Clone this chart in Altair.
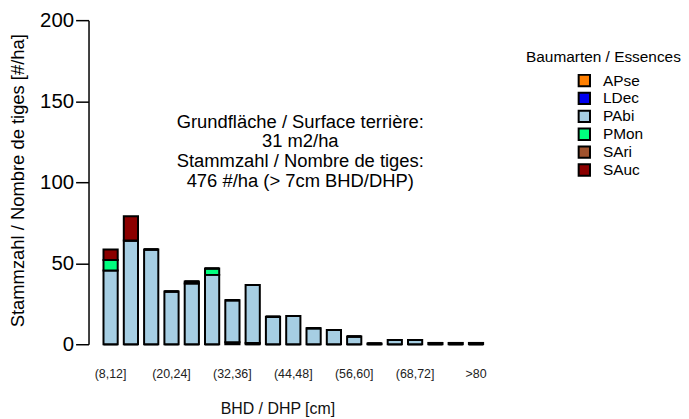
import altair as alt
import pandas as pd

classes = ["(8,12]", "(12,16]", "(16,20]", "(20,24]", "(24,28]", "(28,32]", "(32,36]",
           "(36,40]", "(40,44]", "(44,48]", "(48,52]", "(52,56]", "(56,60]", "(60,64]",
           "(64,68]", "(68,72]", "(72,76]", "(76,80]", ">80"]
species = ["APse", "LDec", "PAbi", "PMon", "SAri", "SAuc"]
colors = ["#FF7F00", "#0000EE", "#A6CEE3", "#00FF7F", "#A0522D", "#8B0000"]

APse = [0, 0, 0, 0, 0, 0, 1.2, 0, 0, 0, 0, 0, 0, 0, 0, 0, 0, 0, 0]
LDec = [0, 0, 0, 0, 0, 0, 0, 0.8, 0, 0, 0, 0, 0, 0, 0, 0, 0, 0, 0]
PAbi = [45.5, 64, 58.5, 32.5, 37.5, 42.8, 26, 35.8, 17, 17.4, 9.8, 8.8, 4.7, 0.4, 2.6, 2.6, 0.8, 0.8, 0.8]
PMon = [6.5, 0, 0, 0, 1.2, 4, 0, 0, 0, 0, 0, 0, 0, 0, 0, 0, 0, 0, 0]
SAri = [0, 0, 0, 0, 0, 0, 0, 0, 0, 0, 0, 0, 0, 0, 0, 0, 0, 0, 0]
SAuc = [6.5, 15, 0, 0, 0, 0, 0, 0, 0, 0, 0, 0, 0, 0, 0, 0, 0, 0, 0]

annotation = "Grundfläche / Surface terrière:\n31 m2/ha\nStammzahl / Nombre de tiges:\n476 #/ha (> 7cm BHD/DHP)"
legend_title = "Baumarten / Essences"
y_title = "Stammzahl / Nombre de tiges [#/ha]"
x_title = "BHD / DHP [cm]"

series = {"APse": APse, "LDec": LDec, "PAbi": PAbi, "PMon": PMon, "SAri": SAri, "SAuc": SAuc}
rows = []
for si, sp in enumerate(species):
    for ci, c in enumerate(classes):
        rows.append({"cls": c, "species": sp, "n": series[sp][ci], "ord": si})
df = pd.DataFrame(rows)

FONT = "Liberation Sans"

bars = alt.Chart(df).mark_bar(stroke="black", strokeWidth=2).encode(
    x=alt.X("cls:N", sort=classes,
            scale=alt.Scale(paddingInner=0.3, paddingOuter=0.15),
            axis=alt.Axis(values=[classes[i] for i in range(0, 19, 3)], labelAngle=0,
                          domain=False, ticks=False, tickSize=0, labelPadding=23,
                          labelFontSize=12.5, labelColor="#222", labelFont=FONT,
                          title=x_title, titleFontSize=16, titleFontWeight="normal",
                          titleFont=FONT, titleColor="#111",
                          titleX=178, titleY=65, titleBaseline="middle")),
    y=alt.Y("n:Q", stack="zero",
            scale=alt.Scale(domain=[0, 200], nice=False),
            axis=alt.Axis(values=[0, 50, 100, 150, 200], grid=False, offset=12,
                          domainColor="black", domainWidth=1.5, tickColor="black",
                          tickWidth=1.5, tickSize=13, labelPadding=2, labelFontSize=20.5,
                          labelFont=FONT, labelColor="black",
                          title=y_title, titleFontSize=18.5, titleFontWeight="normal",
                          titleFont=FONT, titleColor="black", titlePadding=12,
                          titleY=161)),
    color=alt.Color("species:N", scale=alt.Scale(domain=species, range=colors),
                    legend=alt.Legend(title=None, orient="none", legendX=479, legendY=53,
                                      symbolType="square", symbolSize=130,
                                      symbolStrokeColor="black", symbolStrokeWidth=2,
                                      labelFontSize=15.5, labelFont=FONT, labelColor="black",
                                      labelOffset=11, rowPadding=-3, padding=0)),
    order=alt.Order("ord:Q", sort="ascending"),
)

ann_df = pd.DataFrame({"t": [annotation]})
ann = alt.Chart(ann_df).mark_text(
    lineBreak="\n", fontSize=18.5, font=FONT, color="black", align="center",
    baseline="middle", lineHeight=20
).encode(text="t:N", x=alt.value(201), y=alt.value(102))

leg_df = pd.DataFrame({"t": [legend_title]})
legt = alt.Chart(leg_df).mark_text(
    fontSize=15.5, font=FONT, color="black", align="center", baseline="middle"
).encode(text="t:N", x=alt.value(506), y=alt.value(37))

chart = alt.layer(bars, ann, legt).properties(
    width=388, height=326,
    autosize=alt.AutoSizeParams(type="none"),
    padding={"left": 93, "top": 11, "right": 196, "bottom": 76},
).configure_view(stroke=None)

chart.save("out.html", embed_options={"renderer": "svg", "actions": False})
